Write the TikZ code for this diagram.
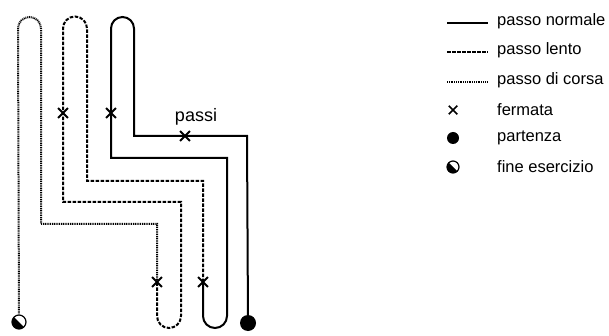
\documentclass[tikz,border=0pt]{standalone}
\usepackage{fontspec}
\setmainfont{Liberation Sans}
\usetikzlibrary{shapes.misc}

\tikzset{
  normale/.style={line width=2pt},
  lento/.style={line width=2pt,dash pattern=on 3.5pt off 1.5pt},
  corsa/.style={line width=2pt,dash pattern=on 1pt off 0.8pt},
  fermata/.style={cross out,draw,line width=1.8pt,minimum size=8pt,inner sep=0pt},
}

\begin{document}
\begin{tikzpicture}[yscale=-1,x=1pt,y=1pt,font=\fontsize{16.5}{19}\selectfont]
      \useasboundingbox (0,0) rectangle (609,336);

      % fermate lungo il percorso
      \node [fermata] (f1) at (63,113) {};
      \node [fermata] (f2) at (111,113) {};
      \node [fermata] (f3) at (185,136) {};
      \node [fermata] (f4) at (157,282) {};
      \node [fermata] (f5) at (203,282) {};
      \node (passi) at (196,117) {\fontsize{18}{20}\selectfont passi};

      \node [circle,fill,inner sep=0pt,minimum size=16pt] (partenza) at (248,323) {};
      \node [circle,draw,line width=1.2pt,inner sep=0pt,minimum size=14pt] (fine) at (19,322) {};
      \fill (fine) +(-135:7) arc[start angle=-135,end angle=-315,radius=7] -- cycle;

      % passo normale
      \draw [normale] (partenza) -- (247,136) -- (f3.center) -- (134,136) -- (134,28.5)
        arc[start angle=0,end angle=-180,radius=11.5] -- (f2.center) -- (111,158)
        -- (227,158) -- (227,316) arc[start angle=0,end angle=180,radius=12] -- (f5.center);
      % passo lento
      \draw [lento] (f5.center) -- (203,181) -- (87,181) -- (87,28.5)
        arc[start angle=0,end angle=-180,radius=12] -- (f1.center) -- (63,202)
        -- (181,202) -- (181,316) arc[start angle=0,end angle=180,radius=12] -- (f4.center);
      % passo di corsa
      \draw [corsa] (f4.center) -- (157,224) -- (41,224) -- (41,28.5)
        arc[start angle=0,end angle=-180,radius=11.5] -- (fine);

      % legenda
      \foreach \y/\sty/\txt [count=\i] in {23/normale/passo normale,
          52/lento/passo lento,82/corsa/passo di corsa}
      {
        \draw [\sty,line width=1.3pt] (447,\y) -- (488,\y);
        \node [anchor=west,inner sep=0pt] (leg\i) at (497,\y-2) {\txt};
      }
      \node [fermata,line width=1.5pt,minimum size=7pt] (legf) at (453,110) {};
      \node [anchor=west,inner sep=0pt] (leg4) at (497,110) {fermata};
      \node [circle,fill,inner sep=0pt,minimum size=12pt] (legp) at (453,138) {};
      \node [anchor=west,inner sep=0pt] (leg5) at (497,138) {partenza};
      \node [circle,draw,line width=1.2pt,inner sep=0pt,minimum size=12pt] (legfe) at (453,167) {};
      \fill (legfe) +(-135:6) arc[start angle=-135,end angle=-315,radius=6] -- cycle;
      \node [anchor=west,inner sep=0pt] (leg6) at (497,167) {fine esercizio};

    \end{tikzpicture}
\end{document}
